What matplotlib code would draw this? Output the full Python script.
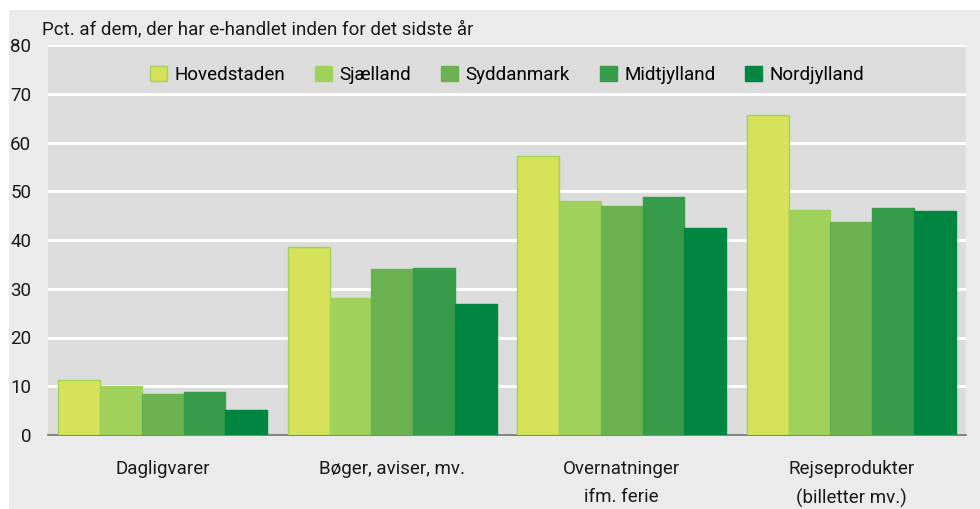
"""
E-handel fordelt på region og varetype.
"""
import numpy as np
import matplotlib
matplotlib.use('Agg')
import matplotlib.pyplot as plt
from matplotlib.patches import Rectangle

matplotlib.rcParams.update({'font.size': 13.5, 'font.family': ['Roboto', 'DejaVu Sans']})

categories = ['Dagligvarer', 'Bøger, aviser, mv.', 'Overnatninger\nifm. ferie', 'Rejseprodukter\n(billetter mv.)']
regions = ['Hovedstaden', 'Sjælland', 'Syddanmark', 'Midtjylland', 'Nordjylland']
hovedstaden = [11.2, 38.5, 57.2, 65.7]
sjaelland = [10.0, 28.1, 47.9, 46.1]
syddanmark = [8.4, 34.0, 46.9, 43.6]
midtjylland = [8.8, 34.2, 48.9, 46.5]
nordjylland = [5.1, 26.8, 42.4, 46.0]
series = [hovedstaden, sjaelland, syddanmark, midtjylland, nordjylland]
colors = ['#d5e25a', '#a0d15a', '#6ab24f', '#369c4a', '#008641']
edges = ['#a3d25a', '#a0d15a', '#6ab24f', '#369c4a', '#008641']

fig = plt.figure(figsize=(9.8, 5.09), dpi=100)
fig.patch.set_facecolor('white')
fig.patches.append(Rectangle((9/980, 0), 1, 1 - 10/509, transform=fig.transFigure,
                             facecolor='#ebebeb', edgecolor='none', zorder=-10))

ax = fig.add_axes([48/980, 74/509, 918/980, 390/509])
ax.set_facecolor('#dcdcdc')

x = np.arange(len(categories))
w = 0.182
for i, (vals, name) in enumerate(zip(series, regions)):
    ax.bar(x + (i - 2) * w, vals, w, color=colors[i], edgecolor=edges[i],
           linewidth=1, label=name, zorder=3)

ax.set_xlim(-0.5, 3.5)
ax.set_ylim(0, 80)
ax.set_yticks(range(0, 81, 10))
ax.yaxis.grid(True, color='white', linewidth=2.2, zorder=0)
ax.set_axisbelow(True)
for s in ['top', 'right', 'left']:
    ax.spines[s].set_visible(False)
ax.spines['bottom'].set_color('#707070')
ax.spines['bottom'].set_linewidth(1.2)
ax.tick_params(axis='both', length=0, labelsize=13.5, colors='#1a1a1a')
ax.tick_params(axis='y', pad=12)
ax.set_xticks(x)
ax.set_xticklabels(categories, linespacing=1.7)
ax.tick_params(axis='x', pad=18)

ax.text(-0.0065, 1.018, 'Pct. af dem, der har e-handlet inden for det sidste år',
        transform=ax.transAxes, ha='left', va='bottom', fontsize=13.5, color='#1a1a1a')

ax.legend(loc='upper center', bbox_to_anchor=(0.5, 0.99), ncol=5, frameon=False,
          handlelength=0.9, handleheight=0.9, handletextpad=0.4, columnspacing=1.6,
          fontsize=13.5)

plt.savefig('out.png', dpi=100, facecolor=fig.get_facecolor())
